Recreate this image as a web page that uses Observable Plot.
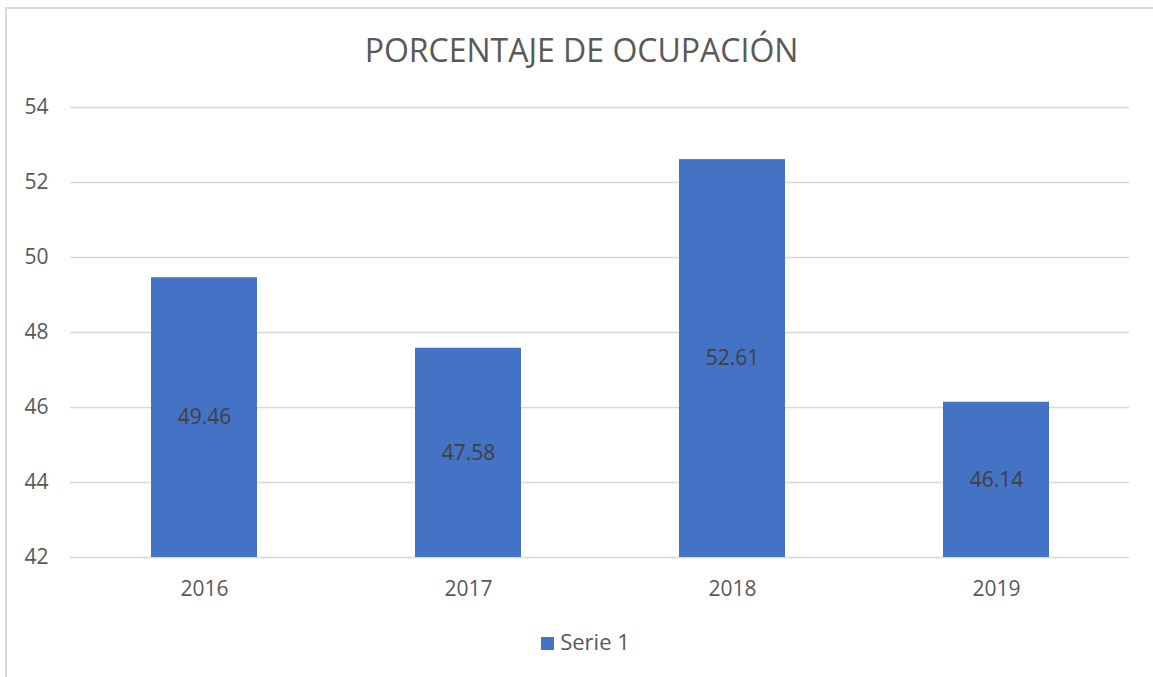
<!DOCTYPE html>
<html>
<head>
<meta charset="utf-8">
<script src="https://cdn.jsdelivr.net/npm/d3@7"></script>
<script src="https://cdn.jsdelivr.net/npm/@observablehq/plot@0.6"></script>
<style>
  html, body { margin: 0; padding: 0; background: #fff; }
  body { width: 1153px; height: 677px; overflow: hidden; font-family: "Open Sans", sans-serif; }
  #frame { position: absolute; left: 5px; top: 7px; width: 1160px; height: 690px;
           border-left: 2px solid #d9d9d9; border-top: 2px solid #d9d9d9; }
  #title { position: absolute; left: 0; top: 28px; width: 1163px; text-align: center;
           font-size: 32px; color: #595959; font-weight: 400; line-height: 44px; }
  #chart { position: absolute; left: 0; top: 90px; }
  #legend { position: absolute; left: 0; top: 626px; width: 1171px; text-align: center;
            font-size: 22px; color: #595959; line-height: 30px; }
  #legend .sw { display: inline-block; width: 13px; height: 13px; background: #4472C4;
                vertical-align: 0px; margin-right: 6px; }
</style>
</head>
<body>
<div id="frame"></div>
<div id="title">PORCENTAJE DE OCUPACIÓN</div>
<div id="chart"></div>
<div id="legend"><span class="sw"></span>Serie 1</div>
<script>
const years = ["2016", "2017", "2018", "2019"];
const values = [49.46, 47.58, 52.61, 46.14];
const yTicks = [42, 44, 46, 48, 50, 52, 54];
const seriesName = "Serie 1";

const data = years.map((y, i) => ({year: y, value: values[i], series: seriesName}));
const yMin = yTicks[0], yMax = yTicks[yTicks.length - 1];

const chart = Plot.plot({
  width: 1153,
  height: 520,
  marginLeft: 70,
  marginRight: 24,
  marginTop: 17,
  marginBottom: 53,
  style: {fontFamily: "'Open Sans', sans-serif", background: "transparent"},
  x: {domain: years, paddingInner: 0.6, paddingOuter: 0.3, label: null},
  y: {domain: [yMin, yMax], ticks: yTicks, label: null},
  marks: [
    Plot.gridY(yTicks, {stroke: "#d9d9d9", strokeOpacity: 1, strokeWidth: 1.5}),
    Plot.barY(data, {x: "year", y1: yMin, y2: "value", fill: "#4472C4"}),
    Plot.text(data, {x: "year", y: d => (yMin + d.value) / 2, text: d => d.value.toFixed(2),
                     fill: "#404040", fontSize: 21}),
    Plot.axisY(yTicks, {tickSize: 0, tickPadding: 22, fontSize: 21, color: "#595959", textAnchor: "end"}),
    Plot.axisX({tickSize: 0, tickPadding: 24, fontSize: 21, color: "#595959"})
  ]
});
document.getElementById("chart").appendChild(chart);
</script>
</body>
</html>
